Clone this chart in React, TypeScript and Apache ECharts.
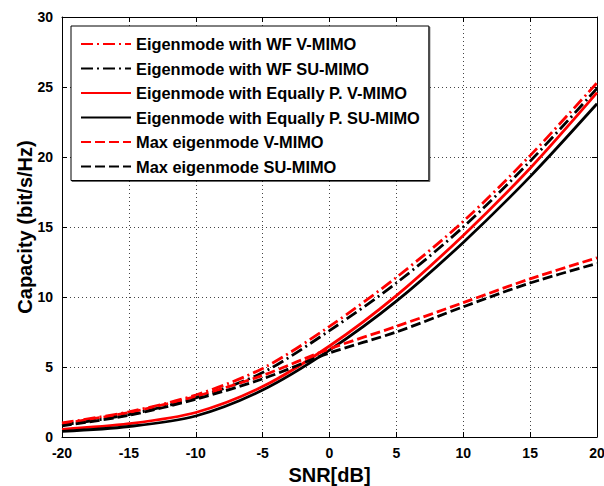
import React, { useEffect, useRef } from "react";
import * as echarts from "echarts";

const snr = [-20, -15, -10, -5, 0, 5, 10, 15, 20];
const wfV = [1.0, 1.8, 3.0, 4.9, 7.9, 11.4, 15.4, 20.1, 25.3];
const wfSU = [0.85, 1.6, 2.8, 4.6, 7.6, 11.0, 15.0, 19.7, 24.9];
const epV = [0.55, 0.95, 1.75, 3.6, 6.5, 10.1, 14.4, 19.2, 24.6];
const epSU = [0.4, 0.75, 1.5, 3.35, 6.2, 9.7, 13.9, 18.6, 23.8];
const maxV = [0.95, 1.75, 2.9, 4.4, 6.3, 7.9, 9.6, 11.3, 12.8];
const maxSU = [0.8, 1.55, 2.7, 4.15, 6.0, 7.5, 9.3, 11.0, 12.4];

const names = [
  "Eigenmode with WF V-MIMO",
  "Eigenmode with WF SU-MIMO",
  "Eigenmode with Equally P. V-MIMO",
  "Eigenmode with Equally P. SU-MIMO",
  "Max eigenmode V-MIMO",
  "Max eigenmode SU-MIMO",
];

const FONT = '"Liberation Sans", Arial, sans-serif';

export default function App() {
  const ref = useRef<HTMLDivElement>(null);
  useEffect(() => {
    if (!ref.current) return;
    const chart = echarts.init(ref.current, undefined, { renderer: "svg" });
    const mk = (name: string, ys: number[], color: string, type: any) => ({
      name,
      type: "line",
      data: snr.map((x, i) => [x, ys[i]]),
      showSymbol: false,
      symbol: "none",
      smooth: 0.3,
      lineStyle: { color, width: 2.8, type, cap: "butt" },
      itemStyle: { color },
      xAxisIndex: 0,
      yAxisIndex: 0,
    });
    const dashDot = [12, 4, 2, 4];
    const dashed = [10, 4];
    const tickLabel = { color: "#000", fontFamily: FONT, fontWeight: "bold", fontSize: 14 };
    chart.setOption({
      animation: false,
      grid: {
        left: 62,
        right: 7,
        top: 17,
        bottom: 49,
        containLabel: false,
        outerBoundsMode: "none",
      },
      legend: {
        orient: "vertical",
        left: 71,
        top: 26,
        itemWidth: 50,
        itemHeight: 14,
        itemGap: 8.5,
        padding: [10, 9, 6, 9],
        borderColor: "#000",
        borderWidth: 1,
        backgroundColor: "#fff",
        shadowColor: "rgba(0,0,0,0.6)",
        shadowOffsetX: 1,
        shadowOffsetY: 1,
        shadowBlur: 0,
        itemStyle: { opacity: 0 },
        textStyle: { color: "#000", fontFamily: FONT, fontWeight: "bold", fontSize: 16.4 },
        data: names,
      },
      xAxis: [
        {
          type: "value",
          min: -20,
          max: 20,
          interval: 5,
          position: "bottom",
          name: "SNR[dB]",
          nameLocation: "middle",
          nameGap: 23,
          nameTextStyle: { color: "#000", fontFamily: FONT, fontWeight: "bold", fontSize: 20 },
          axisLine: { show: true, onZero: false, lineStyle: { color: "#000", width: 1 } },
          axisTick: { show: true, inside: true, length: 5, lineStyle: { color: "#000" } },
          axisLabel: { ...tickLabel, margin: 9, showMinLabel: true, showMaxLabel: true },
          splitLine: { show: true, lineStyle: { color: "#444", type: [1, 3], width: 1 } },
        },
        {
          type: "value",
          min: -20,
          max: 20,
          interval: 5,
          position: "top",
          axisLine: { show: true, onZero: false, lineStyle: { color: "#000", width: 1 } },
          axisTick: { show: true, inside: true, length: 5, lineStyle: { color: "#000" } },
          axisLabel: { show: false },
          splitLine: { show: false },
        },
      ],
      yAxis: [
        {
          type: "value",
          min: 0,
          max: 30,
          interval: 5,
          position: "left",
          name: "Capacity (bit/s/Hz)",
          nameLocation: "middle",
          nameGap: 27,
          nameMoveOverlap: false,
          nameTextStyle: { color: "#000", fontFamily: FONT, fontWeight: "bold", fontSize: 20 },
          axisLine: { show: true, onZero: false, lineStyle: { color: "#000", width: 1 } },
          axisTick: { show: true, inside: true, length: 5, lineStyle: { color: "#000" } },
          axisLabel: { ...tickLabel, margin: 9, showMinLabel: true, showMaxLabel: true },
          splitLine: { show: true, lineStyle: { color: "#444", type: [1, 3], width: 1 } },
        },
        {
          type: "value",
          min: 0,
          max: 30,
          interval: 5,
          position: "right",
          axisLine: { show: true, onZero: false, lineStyle: { color: "#000", width: 1 } },
          axisTick: { show: true, inside: true, length: 5, lineStyle: { color: "#000" } },
          axisLabel: { show: false },
          splitLine: { show: false },
        },
      ],
      series: [
        mk(names[0], wfV, "#ff0000", dashDot),
        mk(names[1], wfSU, "#000000", dashDot),
        mk(names[2], epV, "#ff0000", "solid"),
        mk(names[3], epSU, "#000000", "solid"),
        mk(names[4], maxV, "#ff0000", dashed),
        mk(names[5], maxSU, "#000000", dashed),
      ],
    });
    return () => chart.dispose();
  }, []);
  return (
    <div
      ref={ref}
      style={{ position: "fixed", left: 0, top: 0, width: 604, height: 486, background: "#fff" }}
    />
  );
}
